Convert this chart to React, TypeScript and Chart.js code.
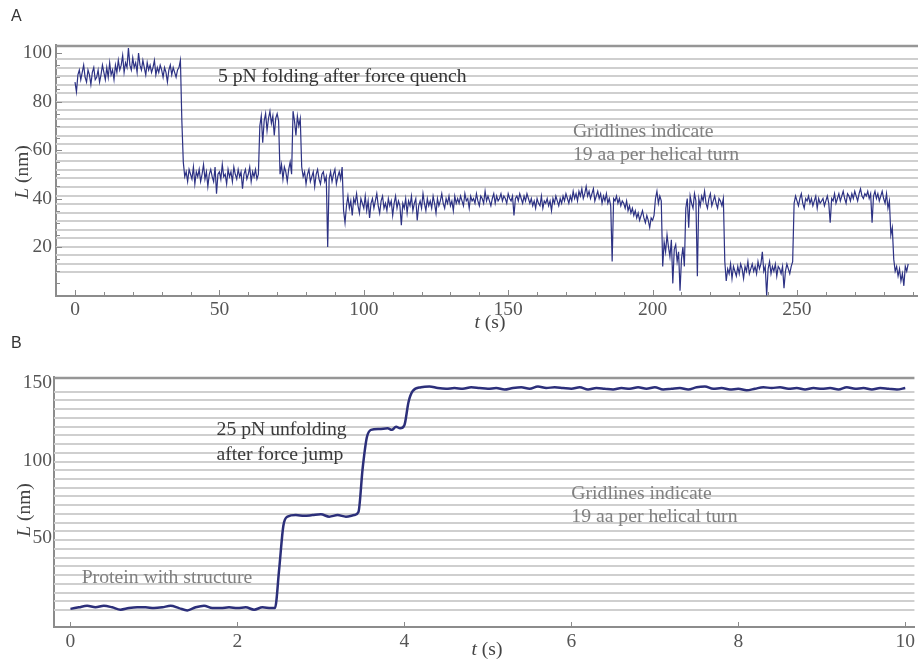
import React, { useEffect, useRef } from "react";
import { Chart, registerables } from "chart.js";
Chart.register(...registerables);

const SERIF = '"Liberation Serif", "Times New Roman", serif';
const SANS = '"Liberation Sans", Arial, sans-serif';

// ---------------- Panel A: 5 pN folding trace (L in nm, sampled every 0.5 s) ----------------
const A_STEP = 0.5;
const A_SEG_START = [0, 37, 64, 71, 75.5, 78.5, 93, 190, 201, 203.5, 211.5, 225, 249, 283.5];
const A1 = [88, 84, 91, 93, 89, 92, 95, 90, 88, 93, 91, 87, 92, 94, 89, 90, 93, 88, 91, 95,
  92, 89, 94, 90, 96, 91, 93, 89, 95, 92,
  97, 93, 95, 99, 92, 96, 94, 102, 95, 93,
  98, 94, 96, 92, 100, 95, 93, 97, 94, 91,
  96, 93, 95, 92, 94, 97, 91, 94, 92, 95,
  93, 90, 94, 92, 88, 93, 95, 91, 94, 92,
  90, 93, 94, 97];
const A2 = [72, 55, 49, 51, 47, 52, 50, 48, 53, 46,
  51, 49, 52, 47, 50, 54, 48, 51, 45, 50,
  52, 49, 47, 53, 42, 50, 51, 48, 54, 49,
  50, 46, 52, 49, 51, 47, 53, 50, 48, 52,
  49, 51, 44, 50, 52, 48, 50, 53, 47, 51,
  49, 52, 48, 50];
const A3 = [70, 74, 63, 72, 75, 68, 73, 76, 71, 74, 66, 73, 75, 72];
const A4 = [50, 54, 48, 53, 51, 47, 52, 55, 50];
const A5 = [76, 72, 66, 74, 70, 73];
const A6 = [53, 49, 51, 46, 50, 52, 47, 49, 51, 45,
  50, 52, 48, 46, 50, 51, 47, 49, 20, 48,
  51, 47, 50, 52, 46, 49, 51, 48, 53];
const A7 = [35, 30, 37, 41, 36, 39, 33, 40, 38, 42,
  37, 34, 40, 38, 36, 41, 35, 39, 32, 38,
  40, 36, 39, 42, 37, 34, 39, 41, 36, 38,
  35, 40, 37, 39, 33, 38, 41, 36, 39, 37,
  29, 38, 36, 40, 34, 39, 37, 41, 35, 38,
  40, 31, 37, 39, 36, 42, 38, 35, 40, 37,
  39, 36, 41, 38, 34, 40, 37, 39, 42, 38,
  36, 40, 38, 41, 37, 39, 35, 41, 38, 40,
  38, 41, 39, 37, 42, 39, 40, 36, 41, 39,
  40, 38, 42, 39, 37, 41, 40, 38, 43, 39,
  41, 39, 37, 40, 42, 38, 41, 39, 40, 42,
  39, 41, 40, 38, 42, 40, 39, 41, 33, 40,
  41, 39, 42, 40, 38, 41, 39, 42, 40, 38,
  40, 37, 39, 36, 40, 38, 37, 41, 36, 39,
  38, 40, 37, 39, 35, 40, 38, 41, 39, 37,
  40, 38, 41, 39, 42, 40, 38, 41, 39, 43,
  40, 42, 39, 43, 41, 44, 40, 42, 45, 41,
  43, 40, 42, 44, 39, 41, 43, 40, 42, 38,
  41, 39, 42, 38, 40, 37, 14, 40, 39, 41,
  38, 40, 37, 39];
const A8 = [38, 36, 39, 35, 37, 34, 36, 33, 35, 32,
  34, 31, 33, 35, 32, 30, 33, 31, 28, 32,
  31, 33];
const A9 = [40, 43, 38, 41, 39];
const A10 = [12, 22, 18, 25, 20, 16, 23, 5, 19, 21, 14, 18, 2, 15, 20, 12];
const A11 = [36, 40, 28, 41, 38, 36, 42, 39, 8, 40,
  37, 41, 39, 43, 38, 36, 40, 42, 37, 39,
  41, 38, 36, 40, 39, 37, 40];
const A12 = [14, 6, 11, 9, 13, 7, 12, 10, 8, 12,
  9, 13, 11, 7, 12, 10, 14, 9, 11, 13,
  10, 12, 9, 14, 11, 13, 18, 10, 12, 0,
  11, 14, 9, 12, 10, 13, 8, 12, 11, 9,
  12, 3, 10, 13, 11, 9, 12, 14];
const A13 = [38, 41, 39, 37, 40, 42, 38, 36, 40, 39,
  41, 38, 40, 37, 39, 41, 36, 40, 38, 39,
  40, 37, 39, 41, 38, 30, 40, 39, 42, 38,
  40, 42, 39, 41, 43, 40, 38, 42, 41, 39,
  42, 40, 43, 41, 39, 42, 44, 41, 40, 42,
  41, 43, 40, 42, 30, 41, 43, 40, 42, 39,
  41, 43, 40, 38, 42, 36, 39, 25, 28];
const A14 = [15, 10, 12, 8, 11, 6, 9, 4, 12, 10, 13];
const A_SEGS = [A1, A2, A3, A4, A5, A6, A7, A8, A9, A10, A11, A12, A13, A14];

const A_Y_TICKS = [20, 40, 60, 80, 100];
const A_X_TICKS = [0, 50, 100, 150, 200, 250];
const A_GRID_START = 9.65;
const A_GRID_STEP = 3.51;
const A_GRID_COUNT = 26;

// ---------------- Panel B: 25 pN unfolding trace ----------------
const B_FLAT1_T0 = 0;
const B_FLAT1 = [4.5, 5.5, 6.5, 5.5, 6.5, 5.5, 4, 5, 5.5, 5.5, 5, 5.5, 6.5, 5, 3.5, 5.5, 6.5, 5, 5, 5.5, 5, 5.5, 4, 5.5, 5];
const B_JUMP1_T = [2.45, 2.5, 2.55, 2.6];
const B_JUMP1_L = [5, 30, 58, 64];
const B_FLAT2_T0 = 2.7;
const B_FLAT2 = [65, 64.5, 65, 65.5, 64, 65, 64, 65];
const B_JUMP2_T = [3.45, 3.5, 3.55, 3.6];
const B_JUMP2_L = [67, 95, 115, 120];
const B_FLAT3_T = [3.7, 3.8, 3.85, 3.9, 3.95];
const B_FLAT3_L = [120.5, 121, 120, 122, 121];
const B_JUMP3_T = [4.0, 4.05, 4.1, 4.2, 4.3];
const B_JUMP3_L = [123, 138, 145, 147.5, 148];
const B_FLAT4_T0 = 4.4;
const B_FLAT4 = [147, 146.5, 147, 146.5, 147.5, 147, 146.5, 147, 146, 147,
  147.5, 146.5, 148, 147, 147.5, 147, 146.5, 147.5, 146, 147,
  146.5, 146, 147, 146.5, 147.5, 146.5, 147.5, 146, 146.5, 147,
  146, 147.5, 148, 146.5, 147, 146, 146.5, 145.5, 146.5, 147.5,
  147, 147.5, 146.5, 147, 146, 147, 146.5, 147, 146, 147.5,
  146.5, 147, 146, 147, 146.5, 146, 147];
const B_STEP = 0.1;

const B_Y_TICKS = [50, 100, 150];
const B_X_TICKS = [0, 2, 4, 6, 8, 10];
const B_GRID_START = 3.7;
const B_GRID_STEP = 5.64;
const B_GRID_COUNT = 26;

function buildA() {
  const pts: { x: number; y: number }[] = [];
  A_SEGS.forEach((seg, i) => {
    seg.forEach((v, j) => pts.push({ x: A_SEG_START[i] + j * A_STEP, y: v }));
  });
  return pts;
}

function buildB() {
  const pts: { x: number; y: number }[] = [];
  B_FLAT1.forEach((v, j) => pts.push({ x: B_FLAT1_T0 + j * B_STEP, y: v }));
  B_JUMP1_T.forEach((t, j) => pts.push({ x: t, y: B_JUMP1_L[j] }));
  B_FLAT2.forEach((v, j) => pts.push({ x: B_FLAT2_T0 + j * B_STEP, y: v }));
  B_JUMP2_T.forEach((t, j) => pts.push({ x: t, y: B_JUMP2_L[j] }));
  B_FLAT3_T.forEach((t, j) => pts.push({ x: t, y: B_FLAT3_L[j] }));
  B_JUMP3_T.forEach((t, j) => pts.push({ x: t, y: B_JUMP3_L[j] }));
  B_FLAT4.forEach((v, j) => pts.push({ x: B_FLAT4_T0 + j * B_STEP, y: v }));
  return pts;
}

function gridValues(start: number, step: number, n: number) {
  const out: number[] = [];
  for (let k = 0; k < n; k++) out.push(start + k * step);
  return out;
}

type Part = { t: string; italic?: boolean };

function drawParts(ctx: CanvasRenderingContext2D, parts: Part[], size: number, color: string) {
  let total = 0;
  const widths = parts.map((p) => {
    ctx.font = `${p.italic ? "italic " : ""}${size}px ${SERIF}`;
    const w = ctx.measureText(p.t).width;
    total += w;
    return w;
  });
  let x = -total / 2;
  ctx.fillStyle = color;
  ctx.textAlign = "left";
  ctx.textBaseline = "middle";
  parts.forEach((p, i) => {
    ctx.font = `${p.italic ? "italic " : ""}${size}px ${SERIF}`;
    ctx.fillText(p.t, x, 0);
    x += widths[i];
  });
}

const decorPlugin = {
  id: "decor",
  beforeDatasetsDraw(chart: any, _a: any, opts: any) {
    const { ctx, chartArea: ca, scales } = chart;
    const y = scales.y;
    ctx.save();
    ctx.strokeStyle = "#cfcfcf";
    ctx.lineWidth = 2;
    for (const v of opts.grid) {
      const py = Math.round(y.getPixelForValue(v));
      ctx.beginPath();
      ctx.moveTo(ca.left, py);
      ctx.lineTo(ca.right, py);
      ctx.stroke();
    }
    ctx.strokeStyle = "#969696";
    ctx.lineWidth = 2.5;
    ctx.beginPath();
    ctx.moveTo(ca.left, ca.top + 1);
    ctx.lineTo(ca.right, ca.top + 1);
    ctx.stroke();
    ctx.restore();
  },
  afterDraw(chart: any, _a: any, opts: any) {
    const { ctx, chartArea: ca, scales } = chart;
    const x = scales.x, y = scales.y;
    ctx.save();
    ctx.strokeStyle = "#8a8a8a";
    ctx.lineWidth = 1;
    for (const t of opts.xTicks) {
      const px = Math.round(x.getPixelForValue(t.v)) + 0.5;
      ctx.beginPath();
      ctx.moveTo(px, ca.bottom);
      ctx.lineTo(px, ca.bottom - t.len);
      ctx.stroke();
    }
    for (const t of opts.yTicks) {
      const py = Math.round(y.getPixelForValue(t.v)) + 0.5;
      ctx.beginPath();
      ctx.moveTo(ca.left, py);
      ctx.lineTo(ca.left + t.len, py);
      ctx.stroke();
    }
    // annotations positioned in data coordinates
    for (const a of opts.notes) {
      ctx.font = `19.7px ${SERIF}`;
      ctx.fillStyle = a.color;
      ctx.textAlign = "left";
      ctx.textBaseline = "middle";
      ctx.fillText(a.text, x.getPixelForValue(a.x), y.getPixelForValue(a.y));
    }
    // axis titles
    ctx.save();
    ctx.translate(opts.yTitle[0], opts.yTitle[1]);
    ctx.rotate(-Math.PI / 2);
    drawParts(ctx, [{ t: "L", italic: true }, { t: " (nm)" }], 19.5, "#444");
    ctx.restore();
    ctx.save();
    ctx.translate(opts.xTitle[0], opts.xTitle[1]);
    drawParts(ctx, [{ t: "t", italic: true }, { t: " (s)" }], 19.5, "#444");
    ctx.restore();
    // panel letter
    ctx.font = `16px ${SANS}`;
    ctx.fillStyle = "#333";
    ctx.textAlign = "left";
    ctx.textBaseline = "alphabetic";
    ctx.fillText(opts.letter[0], opts.letter[1], opts.letter[2]);
    ctx.restore();
  },
};

function makeConfig(p: any): any {
  return {
    type: "line",
    data: {
      datasets: [
        {
          data: p.data,
          borderColor: p.color,
          borderWidth: p.lineWidth,
          pointRadius: 0,
          cubicInterpolationMode: p.smooth ? "monotone" : "default",
          tension: 0,
        },
      ],
    },
    plugins: [decorPlugin],
    options: {
      animation: false,
      responsive: false,
      devicePixelRatio: 1,
      layout: { padding: { top: p.padTop, left: 0, right: 0, bottom: 0 } },
      plugins: {
        legend: { display: false },
        tooltip: { enabled: false },
        decor: p.decor,
      },
      scales: {
        x: {
          type: "linear",
          min: p.xMin,
          max: p.xMax,
          afterBuildTicks: (s: any) => {
            s.ticks = p.xTicks.map((v: number) => ({ value: v }));
          },
          afterFit: (s: any) => {
            s.height = p.xAxisH;
          },
          grid: { display: false, drawTicks: false, tickLength: 0 },
          border: { display: true, color: "#8c8c8c", width: 2 },
          ticks: {
            padding: p.xPad,
            maxRotation: 0,
            autoSkip: false,
            color: "#555",
            font: { family: SERIF, size: 19.5 },
          },
        },
        y: {
          type: "linear",
          min: p.yMin,
          max: p.yMax,
          afterBuildTicks: (s: any) => {
            s.ticks = p.yTicks.map((v: number) => ({ value: v }));
          },
          afterFit: (s: any) => {
            s.width = p.yAxisW;
          },
          grid: { display: false, drawTicks: false, tickLength: 0 },
          border: { display: true, color: "#8c8c8c", width: 2 },
          ticks: {
            padding: p.yPad,
            autoSkip: false,
            color: "#555",
            font: { family: SERIF, size: 19.5 },
          },
        },
      },
    },
  };
}

function Panel({ width, height, top, cfg }: { width: number; height: number; top: number; cfg: () => any }) {
  const ref = useRef<HTMLCanvasElement>(null);
  useEffect(() => {
    const chart = new Chart(ref.current as HTMLCanvasElement, cfg());
    return () => chart.destroy();
  }, []);
  return (
    <canvas
      ref={ref}
      width={width}
      height={height}
      style={{ position: "absolute", left: 0, top, width, height, display: "block" }}
    />
  );
}

const aXTicks: { v: number; len: number }[] = [];
for (let v = 0; v <= 290; v += 10) aXTicks.push({ v, len: v % 50 === 0 ? 6 : 4 });
const aYTicks: { v: number; len: number }[] = [];
for (let v = 5; v <= 100; v += 5) aYTicks.push({ v, len: v % 20 === 0 ? 6 : 4 });
const bXTicks = B_X_TICKS.map((v) => ({ v, len: 5 }));

const cfgA = () =>
  makeConfig({
    data: buildA(),
    color: "#2d3284",
    lineWidth: 1.2,
    smooth: false,
    padTop: 45,
    xMin: -6.58,
    xMax: 291.9,
    yMin: -0.2,
    yMax: 103.3,
    xTicks: A_X_TICKS,
    yTicks: A_Y_TICKS,
    xAxisH: 39,
    yAxisW: 56,
    xPad: 2,
    yPad: 4,
    decor: {
      grid: gridValues(A_GRID_START, A_GRID_STEP, A_GRID_COUNT),
      xTicks: aXTicks,
      yTicks: aYTicks,
      notes: [
        { text: "5 pN folding after force quench", x: 49.5, y: 90.1, color: "#333" },
        { text: "Gridlines indicate", x: 172.4, y: 67.5, color: "#808080" },
        { text: "19 aa per helical turn", x: 172.4, y: 58.0, color: "#808080" },
      ],
      yTitle: [23, 172],
      xTitle: [490, 323],
      letter: ["A", 11, 21],
    },
  });

const cfgB = () =>
  makeConfig({
    data: buildB(),
    color: "#2c2f7a",
    lineWidth: 2.5,
    smooth: true,
    padTop: 42,
    xMin: -0.197,
    xMax: 10.11,
    yMin: -7.2,
    yMax: 154.1,
    xTicks: B_X_TICKS,
    yTicks: B_Y_TICKS,
    xAxisH: 34,
    yAxisW: 54,
    xPad: 3,
    yPad: 2,
    decor: {
      grid: gridValues(B_GRID_START, B_GRID_STEP, B_GRID_COUNT),
      xTicks: bXTicks,
      yTicks: [],
      notes: [
        { text: "25 pN unfolding", x: 1.75, y: 119.9, color: "#3a3a3a" },
        { text: "after force jump", x: 1.75, y: 103.8, color: "#3a3a3a" },
        { text: "Gridlines indicate", x: 6.0, y: 79, color: "#808080" },
        { text: "19 aa per helical turn", x: 6.0, y: 63.9, color: "#808080" },
        { text: "Protein with structure", x: 0.134, y: 24.8, color: "#808080" },
      ],
      yTitle: [25, 175],
      xTitle: [487, 315],
      letter: ["B", 11, 13],
    },
  });

export default function App() {
  return (
    <div style={{ position: "fixed", left: 0, top: 0, width: 918, height: 661, background: "#fff", overflow: "hidden" }}>
      <Panel width={918} height={335} top={0} cfg={cfgA} />
      <Panel width={918} height={326} top={335} cfg={cfgB} />
    </div>
  );
}
